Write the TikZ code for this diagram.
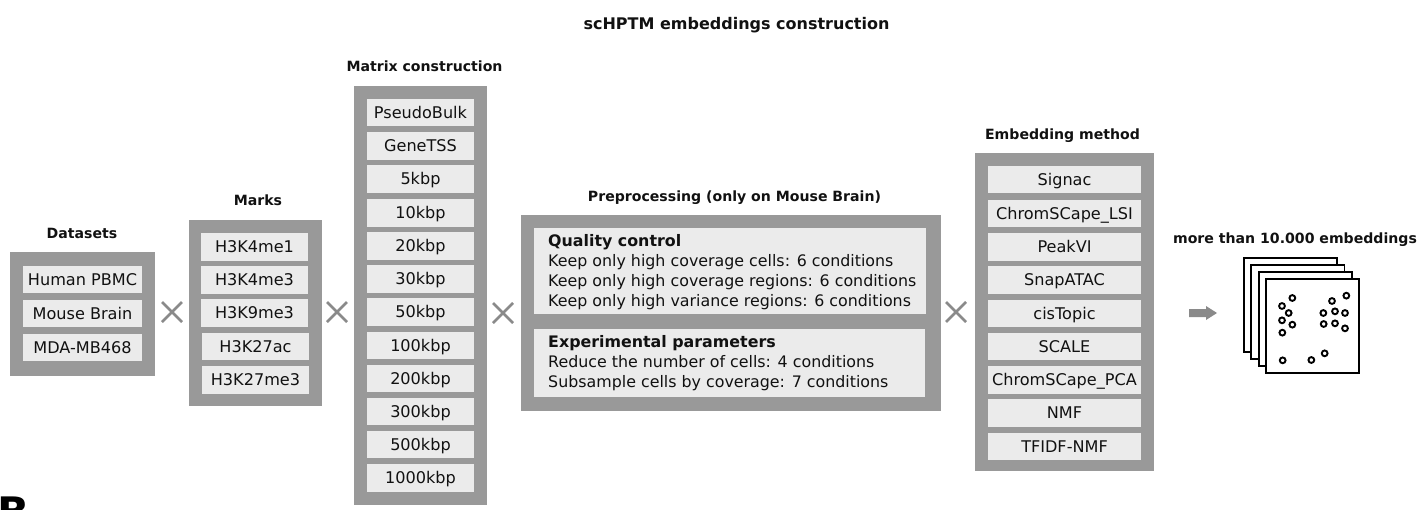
\documentclass[tikz,border=0pt]{standalone}
\usepackage{fontspec}
\setmainfont{DejaVu Sans}
\tikzset{
  panel/.style={fill=panelgrey,draw=none,inner sep=0pt,outer sep=0pt},
  cell/.style={fill=cellgrey,draw=none,inner sep=0pt,outer sep=0pt,align=center,text=inkblack,text height=11.7pt,text depth=0pt,font=\fontsize{16.1}{20}\selectfont},
  heading/.style={inner sep=0pt,text=inkblack,text height=10.5pt,text depth=0pt,font=\fontsize{14.1}{17}\bfseries\selectfont},
  bighead/.style={heading,font=\fontsize{16}{17}\bfseries\selectfont},
  para/.style={anchor=north west,inner sep=0pt,align=left,text=inkblack,font=\fontsize{15.85}{20}\selectfont},
  times/.style={draw=crossgrey,line width=2.6pt},
  sheet/.style={draw=black,line width=1.7pt,fill=white},
  dot/.style={draw=black,line width=1.9pt,fill=white}
}
\definecolor{panelgrey}{HTML}{999999}
\definecolor{cellgrey}{HTML}{EBEBEB}
\definecolor{crossgrey}{HTML}{8A8A8A}
\definecolor{inkblack}{HTML}{111111}
% #1 name, #2 x0, #3 y0, #4 x1, #5 y1, #6 style, #7 text
\newcommand{\bx}[7]{\node[#6,minimum width={(#4-#2)*1pt},minimum height={(#5-#3)*1pt}] (#1) at ({(#2+#4)/2},{(#3+#5)/2}) {#7};}
\newcommand{\crossmark}[2]{\draw[times] (#1-10,#2-10) -- (#1+10,#2+10) (#1-10,#2+10) -- (#1+10,#2-10);}
\begin{document}
\begin{tikzpicture}[x=1pt,y=-1pt]
\useasboundingbox (0,0) rectangle (1417,509);
\clip (0,0) rectangle (1417,509);
% titles
\node[bighead] (tMain) at (736.5,24) {scHPTM embeddings construction};
\node[heading] (tData) at (82,233.5) {Datasets};
\node[heading] (tMarks) at (258,200.5) {Marks};
\node[heading] (tMatrix) at (424.5,66.5) {Matrix construction};
\node[heading] (tPre) at (734.5,196.5) {Preprocessing (only on Mouse Brain)};
\node[heading] (tEmb) at (1062.5,134) {Embedding method};
\node[heading] (tMore) at (1295,238) {more than 10.000 embeddings};
% datasets
\bx{pData}{10}{252}{155}{376}{panel}{}
\bx{d1}{23}{266}{142}{293}{cell}{Human PBMC}
\bx{d2}{23}{300}{142}{327}{cell}{Mouse Brain}
\bx{d3}{23}{334}{142}{361}{cell}{MDA-MB468}
% marks
\bx{pMarks}{189}{220}{322}{406}{panel}{}
\bx{m1}{201}{233}{308}{261}{cell}{H3K4me1}
\bx{m2}{201}{266}{308}{294}{cell}{H3K4me3}
\bx{m3}{201}{299}{308}{327}{cell}{H3K9me3}
\bx{m4}{202}{333}{309}{360}{cell}{H3K27ac}
\bx{m5}{202}{366}{309}{394}{cell}{H3K27me3}
% matrix
\bx{pMatrix}{354}{86}{487}{505}{panel}{}
\bx{x1}{367}{99}{474}{126}{cell}{PseudoBulk}
\bx{x2}{367}{132}{474}{160}{cell}{GeneTSS}
\bx{x3}{367}{165}{474}{193}{cell}{5kbp}
\bx{x4}{367}{199}{474}{227}{cell}{10kbp}
\bx{x5}{367}{232}{474}{260}{cell}{20kbp}
\bx{x6}{367}{265}{474}{293}{cell}{30kbp}
\bx{x7}{367}{298}{474}{326}{cell}{50kbp}
\bx{x8}{367}{332}{474}{359}{cell}{100kbp}
\bx{x9}{367}{365}{474}{392}{cell}{200kbp}
\bx{x10}{367}{398}{474}{425}{cell}{300kbp}
\bx{x11}{367}{431}{474}{458}{cell}{500kbp}
\bx{x12}{367}{464}{474}{492}{cell}{1000kbp}
% preprocessing
\bx{pPre}{521}{215}{941}{411}{panel}{}
\bx{qc}{534}{228}{926}{314}{cell}{}
\bx{ep}{534}{329}{925}{397}{cell}{}
\node[para] (qcText) at (548,234.5) {\fontsize{15.85}{20}\bfseries\selectfont Quality control\\ Keep only high coverage cells: 6 conditions\\ Keep only high coverage regions: 6 conditions\\ Keep only high variance regions: 6 conditions};
\node[para] (epText) at (548,335.5) {\fontsize{15.85}{20}\bfseries\selectfont Experimental parameters\\ Reduce the number of cells: 4 conditions\\ Subsample cells by coverage: 7 conditions};
% embedding
\bx{pEmb}{975}{153}{1154}{471}{panel}{}
\bx{e1}{988}{166}{1141}{193}{cell}{Signac}
\bx{e2}{988}{200}{1141}{227}{cell}{ChromSCape\_LSI}
\bx{e3}{988}{233}{1141}{261}{cell}{PeakVI}
\bx{e4}{988}{266}{1141}{294}{cell}{SnapATAC}
\bx{e5}{988}{300}{1141}{327}{cell}{cisTopic}
\bx{e6}{988}{333}{1141}{360}{cell}{SCALE}
\bx{e7}{988}{366}{1141}{394}{cell}{ChromSCape\_PCA}
\bx{e8}{988}{399}{1141}{427}{cell}{NMF}
\bx{e9}{988}{433}{1141}{460}{cell}{TFIDF-NMF}
% crosses
\crossmark{172}{312}
\crossmark{337}{312}
\crossmark{503}{313}
\crossmark{956}{312}
% arrow
\fill[crossgrey] (1189,309) -- (1206,309) -- (1206,306) -- (1217,313) -- (1206,320) -- (1206,317) -- (1189,317) -- cycle;
% stack
\draw[sheet] (1244,258) rectangle (1337,352);
\draw[sheet] (1251,265) rectangle (1344.5,359);
\draw[sheet] (1259,272) rectangle (1352,366);
\draw[sheet] (1266,279) rectangle (1359,373);
\foreach \a/\b in {367/234,336/258,356/279,336/301,367/314,337/338,486/243,529/227,460/279,495/274,525/279,461/312,495/310,525/325,338/421,424/420,464/400}
  \draw[dot] ({1170+\a/3},{220+\b/3}) circle[radius=2.9];
% cut-off panel letter
\node[anchor=north west,inner sep=0pt,text=black,font=\fontsize{42}{42}\bfseries\selectfont] (letterB) at (-3,497) {B};
\end{tikzpicture}
\end{document}
